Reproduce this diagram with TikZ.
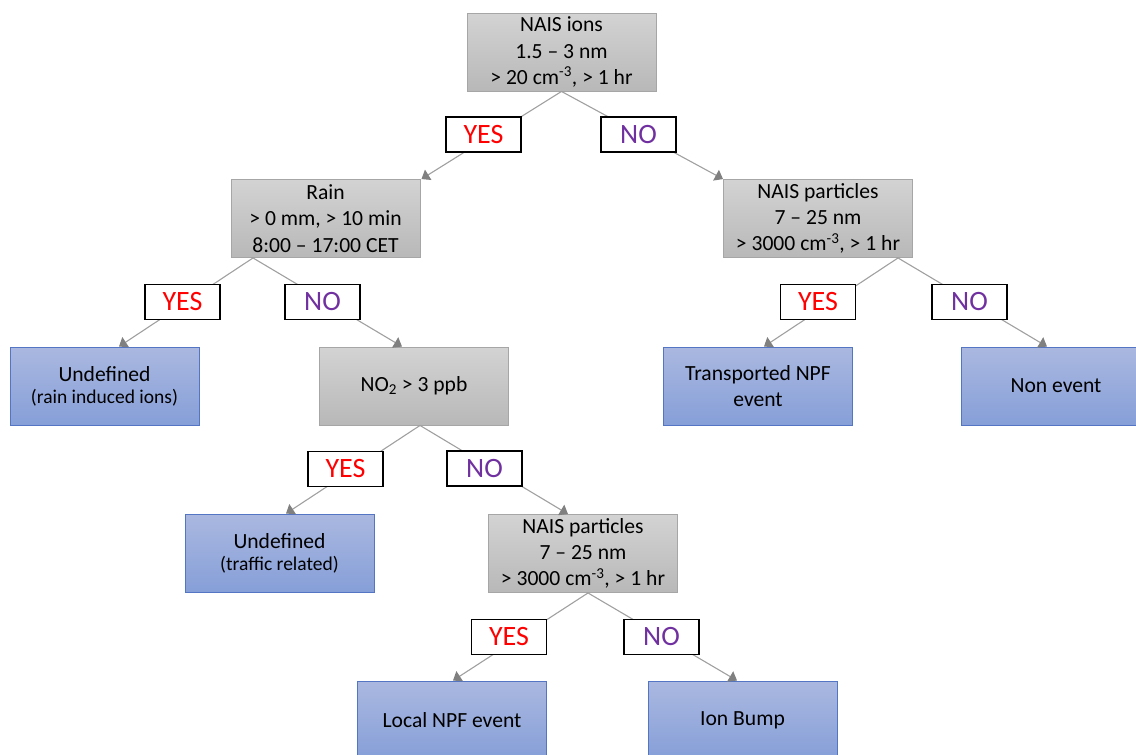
\documentclass[tikz,border=0pt]{standalone}
\usepackage{fontspec}
\setmainfont{Carlito}
\usetikzlibrary{arrows.meta}
\definecolor{grayTop}{RGB}{211,211,211}
\definecolor{grayBot}{RGB}{184,184,184}
\definecolor{grayBorder}{RGB}{166,166,166}
\definecolor{blueTop}{RGB}{170,184,224}
\definecolor{blueBot}{RGB}{134,159,216}
\definecolor{blueBorder}{RGB}{84,117,196}
\definecolor{lineGray}{RGB}{160,160,160}
\definecolor{tipGray}{RGB}{128,128,128}
\definecolor{yesRed}{RGB}{255,0,0}
\definecolor{noPurple}{RGB}{112,48,160}
\tikzset{
  box/.style={rectangle, minimum width=189pt, minimum height=78pt, inner sep=0pt,
    align=center, line width=0.9pt, font=\fontsize{21.6}{26.3}\selectfont},
  graybox/.style={box, draw=grayBorder, top color=grayTop, bottom color=grayBot},
  bluebox/.style={box, draw=blueBorder, top color=blueTop, bottom color=blueBot},
  lab/.style={rectangle, draw=black, fill=white, line width=1.6pt, minimum width=75pt,
    minimum height=35pt, inner sep=0pt, font=\fontsize{28}{30}\selectfont},
  yeslab/.style={lab, text=yesRed},
  nolab/.style={lab, text=noPurple},
  conn/.style={draw=lineGray, line width=1.1pt,
    -{Triangle[width=12pt,length=8pt,color=tipGray]}}
}
\newcommand{\subline}[1]{{\fontsize{19.5}{22}\selectfont #1}}
\begin{document}
\begin{tikzpicture}[x=1pt,y=-1pt]
\useasboundingbox (0,0) rectangle (1136,755);
% decision boxes
\node[graybox] (top) at (561.5,52) {NAIS ions\\1.5 -- 3 nm\\> 20 cm\textsuperscript{-3}, > 1 hr};
\node[graybox] (rain) at (325.5,218.5) {Rain\\> 0 mm, > 10 min\\8:00 -- 17:00 CET};
\node[graybox] (pa) at (818,218.5) {NAIS particles\\7 -- 25 nm\\> 3000 cm\textsuperscript{-3}, > 1 hr};
\node[graybox] (no2) at (414,386) {NO\textsubscript{2} > 3 ppb};
\node[graybox] (pb) at (583,553.5) {NAIS particles\\7 -- 25 nm\\> 3000 cm\textsuperscript{-3}, > 1 hr};
% outcome boxes
\node[bluebox] (und1) at (104.5,386) {Undefined\\[-4pt]\subline{(rain induced ions)}};
\node[bluebox] (trans) at (758,386) {Transported NPF\\event};
\node[bluebox] (non) at (1056,386) {Non event};
\node[bluebox] (und2) at (279.5,553) {Undefined\\[-4pt]\subline{(traffic related)}};
\node[bluebox] (local) at (452,720) {Local NPF event};
\node[bluebox] (ion) at (742.5,720) {Ion Bump};
% connectors
\draw[conn] (top.south) -- ([xshift=1pt]rain.north east);
\draw[conn] (top.south) -- ([xshift=0pt]pa.north west);
\draw[conn] ([xshift=-72.5pt]rain.south) -- ([xshift=14.5pt]und1.north);
\draw[conn] ([xshift=-72.5pt]rain.south) -- ([xshift=-12pt]no2.north);
\draw[conn] ([xshift=80pt]pa.south) -- ([xshift=6pt]trans.north);
\draw[conn] ([xshift=80pt]pa.south) -- ([xshift=-9pt]non.north);
\draw[conn] ([xshift=6pt]no2.south) -- ([xshift=6.5pt]und2.north);
\draw[conn] ([xshift=6pt]no2.south) -- ([xshift=-15pt]pb.north);
\draw[conn] ([xshift=5pt]pb.south) -- ([xshift=1pt]local.north);
\draw[conn] ([xshift=5pt]pb.south) -- ([xshift=-5.5pt]ion.north);
% labels
\node[yeslab] (y1) at (483.5,134.5) {YES};
\node[nolab] (n1) at (638.5,134.5) {NO};
\node[yeslab] (y2) at (182.5,302) {YES};
\node[nolab] (n2) at (322.5,302) {NO};
\node[yeslab] (y3) at (818,302) {YES};
\node[nolab] (n3) at (969.5,302) {NO};
\node[yeslab] (y4) at (345.5,469) {YES};
\node[nolab] (n4) at (484.5,468.5) {NO};
\node[yeslab] (y5) at (509,637) {YES};
\node[nolab] (n5) at (661.5,637) {NO};
\end{tikzpicture}
\end{document}
